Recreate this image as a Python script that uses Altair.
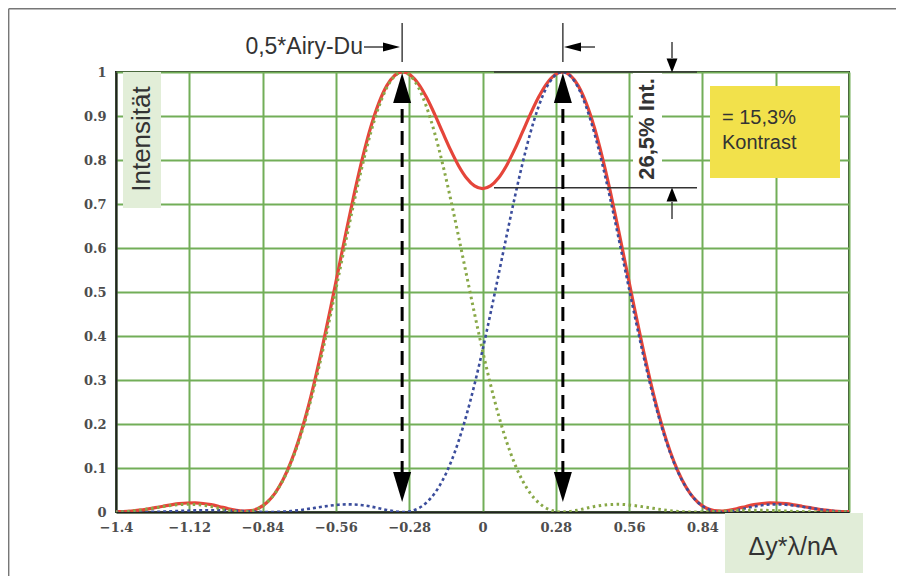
import altair as alt
import pandas as pd

# ---------------- data ----------------
x_vals = [-1.403, -1.3725, -1.342, -1.3115, -1.281, -1.2505, -1.22, -1.1895, -1.159, -1.1285,
          -1.098, -1.0675, -1.037, -1.0065, -0.976, -0.9455, -0.915, -0.8845, -0.854, -0.8235,
          -0.793, -0.7625, -0.732, -0.7015, -0.671, -0.6405, -0.61, -0.5795, -0.549, -0.5185,
          -0.488, -0.4575, -0.427, -0.3965, -0.366, -0.3355, -0.305, -0.2745, -0.244, -0.2135,
          -0.183, -0.1525, -0.122, -0.0915, -0.061, -0.0305,
          0.0,
          0.0305, 0.061, 0.0915, 0.122, 0.1525, 0.183, 0.2135, 0.244, 0.2745, 0.305,
          0.3355, 0.366, 0.3965, 0.427, 0.4575, 0.488, 0.5185, 0.549, 0.5795, 0.61,
          0.6405, 0.671, 0.7015, 0.732, 0.7625, 0.793, 0.8235, 0.854, 0.8845, 0.915,
          0.9455, 0.976, 1.0065, 1.037, 1.0675, 1.098, 1.1285, 1.159, 1.1895, 1.22,
          1.2505, 1.281, 1.3115, 1.342, 1.3725, 1.403]

# sum of both intensities (red, solid)
red_sum = [0.0007, 0.0011, 0.0022, 0.0041, 0.0067, 0.0098, 0.0131, 0.0162, 0.0189, 0.0204,
           0.0206, 0.0193, 0.0166, 0.0126, 0.0082, 0.0043, 0.0020, 0.0031, 0.0090, 0.0216,
           0.0424, 0.0726, 0.1132, 0.1649, 0.2273, 0.2994, 0.3797, 0.4658, 0.5550, 0.6437,
           0.7288, 0.8067, 0.8744, 0.9288, 0.9685, 0.9922, 1.0000, 0.9927, 0.9725, 0.9418,
           0.9042, 0.8632, 0.8229, 0.7871, 0.7591, 0.7411,
           0.7350,
           0.7411, 0.7591, 0.7871, 0.8229, 0.8632, 0.9042, 0.9418, 0.9725, 0.9927, 1.0000,
           0.9922, 0.9685, 0.9288, 0.8744, 0.8067, 0.7288, 0.6437, 0.5550, 0.4658, 0.3797,
           0.2994, 0.2273, 0.1649, 0.1132, 0.0726, 0.0424, 0.0216, 0.0090, 0.0031, 0.0020,
           0.0043, 0.0082, 0.0126, 0.0166, 0.0193, 0.0206, 0.0204, 0.0189, 0.0162, 0.0131,
           0.0098, 0.0067, 0.0041, 0.0022, 0.0011, 0.0007]

# right Airy disc (blue, dashed)
blue_right = [0.0006, 0.0003, 0.0001, 0.0000, 0.0001, 0.0004, 0.0009, 0.0015, 0.0023, 0.0030,
              0.0036, 0.0040, 0.0041, 0.0040, 0.0036, 0.0029, 0.0020, 0.0012, 0.0004, 0.0000,
              0.0001, 0.0008, 0.0021, 0.0041, 0.0066, 0.0094, 0.0122, 0.0147, 0.0166, 0.0174,
              0.0170, 0.0153, 0.0125, 0.0086, 0.0046, 0.0014, 0.0000, 0.0019, 0.0086, 0.0216,
              0.0423, 0.0718, 0.1111, 0.1608, 0.2207, 0.2900, 0.3675, 0.4511, 0.5384, 0.6263,
              0.7118, 0.7914, 0.8619, 0.9202, 0.9639, 0.9908, 1.0000,
              0.9908, 0.9639, 0.9202, 0.8619, 0.7914, 0.7118, 0.6263, 0.5384, 0.4511, 0.3675,
              0.2900, 0.2207, 0.1608, 0.1111, 0.0718, 0.0423, 0.0216, 0.0086, 0.0019, 0.0000,
              0.0014, 0.0046, 0.0086, 0.0125, 0.0153, 0.0170, 0.0174, 0.0166, 0.0147, 0.0122,
              0.0094, 0.0066, 0.0041, 0.0021, 0.0008, 0.0001]

# left Airy disc (green, dotted)
green_left = [0.0001, 0.0008, 0.0021, 0.0041, 0.0066, 0.0094, 0.0122, 0.0147, 0.0166, 0.0174,
              0.0170, 0.0153, 0.0125, 0.0086, 0.0046, 0.0014, 0.0000, 0.0019, 0.0086, 0.0216,
              0.0423, 0.0718, 0.1111, 0.1608, 0.2207, 0.2900, 0.3675, 0.4511, 0.5384, 0.6263,
              0.7118, 0.7914, 0.8619, 0.9202, 0.9639, 0.9908, 1.0000,
              0.9908, 0.9639, 0.9202, 0.8619, 0.7914, 0.7118, 0.6263, 0.5384, 0.4511, 0.3675,
              0.2900, 0.2207, 0.1608, 0.1111, 0.0718, 0.0423, 0.0216, 0.0086, 0.0019, 0.0000,
              0.0014, 0.0046, 0.0086, 0.0125, 0.0153, 0.0170, 0.0174, 0.0166, 0.0147, 0.0122,
              0.0094, 0.0066, 0.0041, 0.0021, 0.0008, 0.0001, 0.0000, 0.0004, 0.0012, 0.0020,
              0.0029, 0.0036, 0.0040, 0.0041, 0.0040, 0.0036, 0.0030, 0.0023, 0.0015, 0.0009,
              0.0004, 0.0001, 0.0000, 0.0001, 0.0003, 0.0006]

x_ticks = [-1.4, -1.12, -0.84, -0.56, -0.28, 0, 0.28, 0.56, 0.84, 1.12, 1.4]
y_ticks = [0, 0.1, 0.2, 0.3, 0.4, 0.5, 0.6, 0.7, 0.8, 0.9, 1.0]

peak_pos = 0.307      # position of the two maxima (arrows)
dip_level = 0.737     # intensity at the centre dip

# ---------------- chart ----------------
curves = pd.DataFrame({"x": x_vals, "red": red_sum, "blue": blue_right, "green": green_left})

GRID = "#72ae58"
LABEL_FONT = "DejaVu Serif"
TEXT_FONT = "Liberation Sans"

xscale = alt.Scale(domain=[-1.4, 1.4], nice=False, zero=False)
yscale = alt.Scale(domain=[0, 1], nice=False, zero=False)

# labels right of 0.84 are covered by the axis-title box in the original
xaxis = alt.Axis(values=x_ticks, grid=True, gridColor=GRID, gridWidth=2, gridOpacity=1,
                 ticks=False, domain=True, domainColor="#222222", domainWidth=2,
                 labelFont=LABEL_FONT, labelFontWeight="bold", labelFontSize=13,
                 labelColor="#4d4d4d", labelPadding=9, labelOverlap=False, labelFlush=False,
                 title=None,
                 labelExpr="datum.value > 1 ? '' : (datum.value < 0 ? '\u2212' + format(-datum.value, '.3~f') : format(datum.value, '.3~f'))")
yaxis = alt.Axis(values=y_ticks, grid=True, gridColor=GRID, gridWidth=2, gridOpacity=1,
                 ticks=False, domain=True, domainColor="#222222", domainWidth=2,
                 labelFont=LABEL_FONT, labelFontWeight="bold", labelFontSize=13,
                 labelColor="#4d4d4d", labelPadding=10, labelOverlap=False, labelFlush=False,
                 title=None, labelExpr="format(datum.value, '.1~f')")


def X(f):
    return alt.X(f, type="quantitative", scale=xscale, axis=xaxis)


def Y(f):
    return alt.Y(f, type="quantitative", scale=yscale, axis=yaxis)


# boxes (background patches)
boxes = pd.DataFrame({
    "x": [-1.3732, 0.5749, 0.8690, 0.9263],
    "x2": [-1.2281, 0.6857, 1.3656, 1.4535],
    "y": [0.6909, 0.7386, 0.7591, -0.1386],
    "y2": [1.0, 0.9977, 0.9682, -0.0023],
    "fill": ["#e2eed8", "#ffffff", "#f2e14b", "#e1edd8"],
})
box_layer = alt.Chart(boxes).mark_rect().encode(
    x=X("x"), x2="x2", y=Y("y"), y2="y2", color=alt.Color("fill:N", scale=None))

red_line = alt.Chart(curves).mark_line(color="#e5453a", strokeWidth=3.2,
                                       interpolate="monotone", clip=True).encode(x=X("x"), y=Y("red"))
blue_line = alt.Chart(curves).mark_line(color="#3b4d9c", strokeWidth=2.6, strokeDash=[3, 3],
                                        interpolate="monotone", clip=True).encode(x=X("x"), y=Y("blue"))
green_line = alt.Chart(curves).mark_line(color="#88a847", strokeWidth=3, strokeDash=[2.5, 3.5],
                                         interpolate="monotone", clip=True).encode(x=X("x"), y=Y("green"))

# outer frame
frame = pd.DataFrame({"x": [-1.81, -1.81], "x2": [-1.81, 1.9], "y": [-0.2, 1.1436], "y2": [1.1436, 1.1436]})
frame_layer = alt.Chart(frame).mark_rule(color="#777777", strokeWidth=1.5).encode(
    x=X("x"), x2="x2", y=Y("y"), y2="y2")

# thin solid annotation lines
thin = pd.DataFrame({
    "x":  [-peak_pos, peak_pos, -0.4527, 0.3724, 0.0439, 0.0439, 0.7239, 0.7239],
    "x2": [-peak_pos, peak_pos, -0.3724, 0.4297, 0.8194, 0.8194, 0.7239, 0.7239],
    "y":  [1.0227, 1.0227, 1.0568, 1.0568, 1.0, dip_level, 1.0682, 0.6659],
    "y2": [1.1114, 1.1114, 1.0568, 1.0568, 1.0, dip_level, 1.0318, 0.7045],
})
thin_layer = alt.Chart(thin).mark_rule(color="#333333", strokeWidth=1.4).encode(
    x=X("x"), x2="x2", y=Y("y"), y2="y2")

# dashed vertical arrows
dashed = pd.DataFrame({"x": [-peak_pos, peak_pos], "y": [0.0841, 0.0841], "y2": [0.9295, 0.9295]})
dashed_layer = alt.Chart(dashed).mark_rule(color="#000000", strokeWidth=3, strokeDash=[14, 8]).encode(
    x=X("x"), y=Y("y"), y2="y2")


def heads(xs, ys, shape, size):
    df = pd.DataFrame({"x": xs, "y": ys})
    return alt.Chart(df).mark_point(shape=shape, size=size, filled=True, color="#000000",
                                    opacity=1, strokeWidth=0).encode(x=X("x"), y=Y("y"))


big_up = heads([-peak_pos, peak_pos], [0.9636, 0.9636], "M0,-1L0.6,1L-0.6,1Z", 900)
big_down = heads([-peak_pos, peak_pos], [0.0568, 0.0568], "M0,1L0.6,-1L-0.6,-1Z", 900)
arr_right = heads([-0.3476], [1.0568], "M1,0L-1,-0.53L-1,0.53Z", 289)
arr_left = heads([0.3438], [1.0568], "M-1,0L1,-0.53L1,0.53Z", 289)
small_down = heads([0.7239], [1.0148], "M0,1L-0.78,-1L0.78,-1Z", 196)
small_up = heads([0.7239], [0.7216], "M0,-1L-0.78,1L0.78,1Z", 196)


def label(x, y, text, size, angle=0, weight="normal", align="center"):
    df = pd.DataFrame({"x": [x], "y": [y], "t": [text]})
    return alt.Chart(df).mark_text(font=TEXT_FONT, fontSize=size, fontWeight=weight, angle=angle,
                                   align=align, baseline="middle", color="#333333").encode(
        x=X("x"), y=Y("y"), text="t:N")


t_airy = label(-0.4565, 1.0568, "0,5*Airy-Du", 23, align="right")
t_int = label(-1.3006, 0.8477, "Intensität", 26, angle=270)
t_265 = label(0.6284, 0.8705, "26,5% Int.", 22, angle=270, weight="bold")
t_153 = label(0.9149, 0.8955, "= 15,3%", 20, align="left")
t_kon = label(0.9149, 0.8386, "Kontrast", 20, align="left")
t_xax = label(1.1861, -0.0795, "Δy*λ/nA", 25)

chart = alt.layer(
    box_layer, red_line, blue_line, green_line, frame_layer, thin_layer, dashed_layer,
    big_up, big_down, arr_right, arr_left, small_down, small_up,
    t_airy, t_int, t_265, t_153, t_kon, t_xax,
).properties(
    width=733, height=440,
    autosize=alt.AutoSizeParams(type="none"),
    padding={"left": 108, "top": 64, "right": 47, "bottom": 64},
    background="#ffffff",
).configure_view(stroke="#222222", strokeWidth=2)

chart.save("out.html", embed_options={"renderer": "svg", "actions": False})
